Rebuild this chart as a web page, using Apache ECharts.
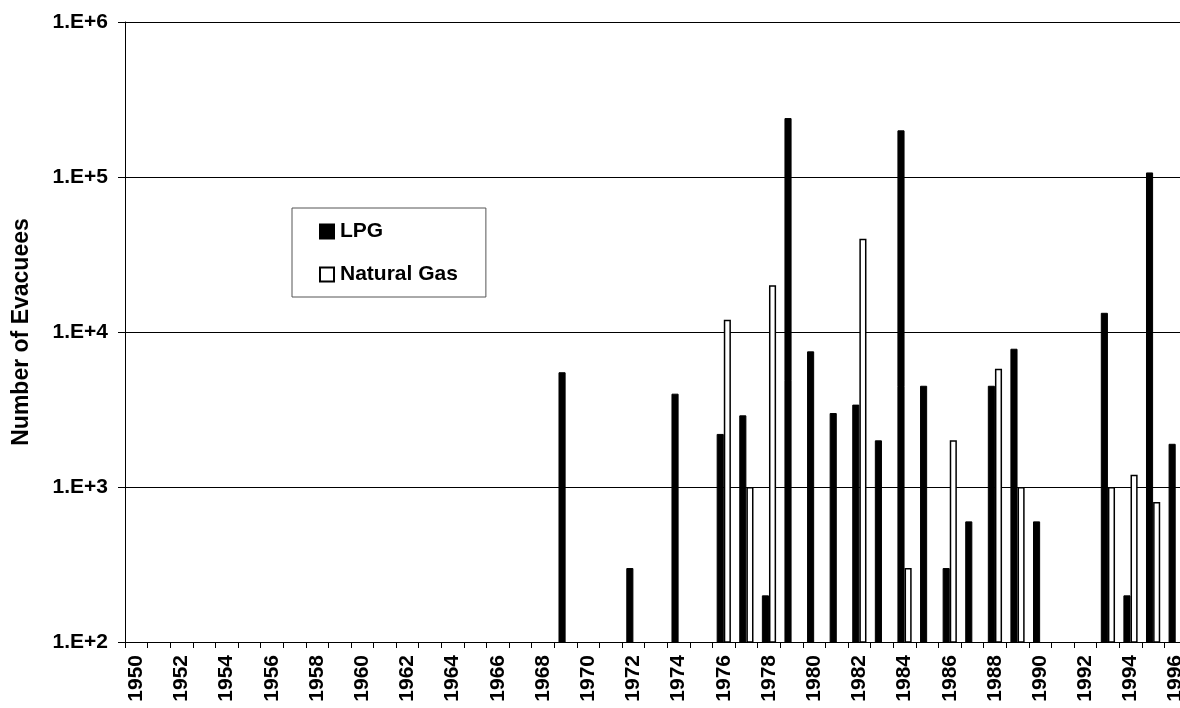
<!DOCTYPE html>
<html>
<head>
<meta charset="utf-8">
<script src="https://cdn.jsdelivr.net/npm/echarts@6/dist/echarts.min.js"></script>
<style>
	html, body { margin: 0; padding: 0; background: #fff; }
	#chart { width: 1180px; height: 708px; }
</style>
</head>
<body>
<div id="chart"></div>
<script>
// years on the category axis
var years = ['1950', '1951', '1952', '1953', '1954', '1955', '1956', '1957', '1958', '1959',
	'1960', '1961', '1962', '1963', '1964', '1965', '1966', '1967', '1968', '1969',
	'1970', '1971', '1972', '1973', '1974', '1975', '1976', '1977', '1978', '1979',
	'1980', '1981', '1982', '1983', '1984', '1985', '1986', '1987', '1988', '1989',
	'1990', '1991', '1992', '1993', '1994', '1995', '1996'];

// evacuees, null = no event that year
var lpg = [null, null, null, null, null, null, null, null, null, null,
	null, null, null, null, null, null, null, null, null, 5500,
	null, null, 300, null, 4000, null, 2200, 2900, 200, 240000,
	7500, 3000, 3400, 2000, 200000, 4500, 300, 600, 4500, 7800,
	600, null, null, 13300, 200, 107000, 1900];

var naturalGas = [null, null, null, null, null, null, null, null, null, null,
	null, null, null, null, null, null, null, null, null, null,
	null, null, null, null, null, null, 12000, 1000, 20000, null,
	null, null, 40000, null, 300, null, 2000, null, 5800, 1000,
	null, null, null, 1000, 1200, 800, null];

var seriesNames = ['LPG', 'Natural Gas'];

var font = 'Liberation Sans, Arial, sans-serif';
var chart = echarts.init(document.getElementById('chart'));
var option = {
	animation: false,
	backgroundColor: '#fff',
	grid: {
		left: 125,
		width: 1062,
		top: 22,
		bottom: 66,
		containLabel: false,
		outerBoundsMode: 'none'
	},
	legend: {
		orient: 'vertical',
		left: 292,
		top: 208,
		data: seriesNames,
		icon: 'rect',
		itemWidth: 14,
		itemHeight: 14,
		itemGap: 22,
		padding: [13, 28, 12, 27],
		borderColor: '#555',
		borderWidth: 1,
		textStyle: {
			fontFamily: font,
			fontWeight: 'bold',
			fontSize: 21,
			color: '#000',
			padding: [0, 0, 0, 1]
		}
	},
	xAxis: {
		type: 'category',
		data: years,
		axisLine: { lineStyle: { color: '#000', width: 1 } },
		axisTick: { show: true, interval: 0, length: 6, lineStyle: { color: '#000', width: 1 } },
		axisLabel: {
			interval: 1,
			rotate: 90,
			margin: 13,
			fontFamily: font,
			fontWeight: 'bold',
			fontSize: 21,
			color: '#000'
		}
	},
	yAxis: {
		type: 'log',
		logBase: 10,
		min: 100,
		max: 1000000,
		name: 'Number of Evacuees',
		nameLocation: 'middle',
		nameGap: 92,
		nameTextStyle: {
			fontFamily: font,
			fontWeight: 'bold',
			fontSize: 23,
			color: '#000'
		},
		axisLine: { show: true, lineStyle: { color: '#000', width: 1 } },
		axisTick: { show: true, length: 7, lineStyle: { color: '#000', width: 1 } },
		splitLine: { show: true, lineStyle: { color: '#000', width: 1 } },
		axisLabel: {
			margin: 17,
			fontFamily: font,
			fontWeight: 'bold',
			fontSize: 21,
			color: '#000',
			formatter: function (v) {
				return '1.E+' + Math.round(Math.log10(v));
			}
		}
	},
	series: [{
		name: seriesNames[0],
		type: 'bar',
		data: lpg,
		barGap: '0%',
		barCategoryGap: '37%',
		itemStyle: { color: '#000', borderColor: '#000', borderWidth: 1 }
	}, {
		name: seriesNames[1],
		type: 'bar',
		data: naturalGas,
		barGap: '0%',
		barCategoryGap: '37%',
		itemStyle: { color: '#fff', borderColor: '#000', borderWidth: 1.5 }
	}]
};
chart.setOption(option);
window.addEventListener('resize', function () {
	chart.resize();
});
</script>
</body>
</html>
